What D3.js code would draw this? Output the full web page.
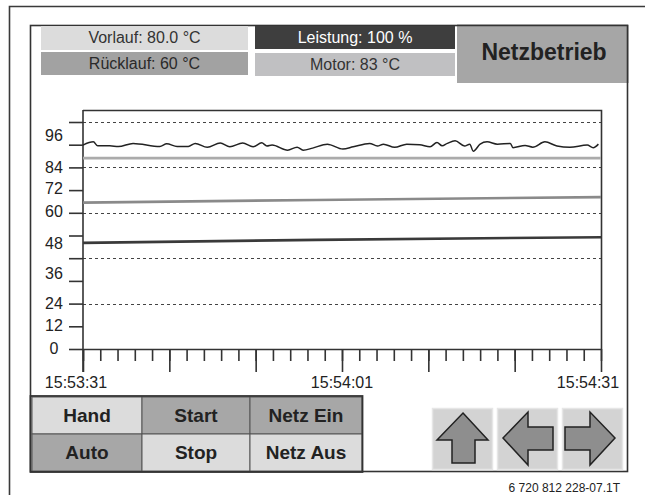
<!DOCTYPE html>
<html>
<head>
<meta charset="utf-8">
<script src="https://cdn.jsdelivr.net/npm/d3@7"></script>
<style>
  body { margin: 0; background: #fff; }
  text { font-family: "Liberation Sans", Arial, sans-serif; }
</style>
</head>
<body>
<script>
// ---- data ----
const headerLabels = ["Vorlauf: 80.0 °C", "Rücklauf: 60 °C", "Leistung: 100 %", "Motor: 83 °C"];
const modeLabel = "Netzbetrieb";
const buttonLabels = ["Hand", "Start", "Netz Ein", "Auto", "Stop", "Netz Aus"];
const footerCode = "6 720 812 228-07.1T";

const timeStart = "15:53:31";
const timeEnd = "15:54:31";
const xMinorSeconds = d3.range(0, 61, 2);
const xMajorSeconds = [0, 10, 20, 30, 40, 50, 60];
const xLabelSeconds = [0, 30, 60];

const yTickValues = [0, 12, 24, 36, 48, 60, 72, 84, 96, 108, 120];
const yGridValues = [24, 48, 72, 96, 120];
const yTickLabels = ["0", "12", "24", "36", "48", "60", "72", "84", "96"];
// where each label sits on the drawn scale (labels are not aligned to ticks on the panel)
const yLabelAt = [-0.5, 11.5, 23.5, 39, 55, 72, 84, 95.5, 112];

// series: [seconds after start, value]
const wavySeries = [
  [0, 107.8], [1.2, 109.5], [1.7, 107.4], [3.1, 107.4], [4.1, 107.0], [5.8, 108.7],
  [8.9, 107.1], [9.7, 108.5], [10.9, 107.1], [12.2, 107.1], [13.0, 108.7], [14.4, 106.6],
  [15.9, 108.9], [17.0, 106.9], [18.5, 108.9], [19.7, 106.9], [20.7, 109.0], [21.3, 107.3],
  [21.9, 107.8], [23.7, 105.1], [24.8, 106.7], [25.5, 105.1], [26.6, 106.2], [28.3, 108.3],
  [30.1, 105.7], [31.3, 106.9], [33.2, 108.7], [34.1, 107.3], [34.8, 108.3], [36.1, 106.6],
  [37.5, 108.3], [39.0, 108.0], [40.2, 106.9], [41.0, 109.2], [41.6, 107.4], [42.2, 108.7],
  [43.1, 110.1], [44.2, 107.3], [44.8, 108.3], [45.2, 104.6], [46.0, 108.3], [46.8, 109.5],
  [48.0, 108.3], [49.5, 108.7], [49.8, 106.4], [51.2, 107.6], [52.1, 106.7], [53.5, 109.5],
  [54.9, 107.3], [56.4, 106.6], [58.4, 107.8], [59.1, 106.4], [59.7, 108.3]
];
const flatSeries = [[0, 100.9], [60, 100.9]];
const graySeries = [[0, 77.4], [27, 78.8], [60, 80.3]];
const darkSeries = [[0, 56.1], [27, 57.7], [60, 59.1]];

// ---- drawing ----
const W = 645, H = 495;
const svg = d3.select("body").append("svg")
    .attr("width", W)
    .attr("height", H);

// outer frame (only top and left visible)
svg.append("path")
    .attr("d", "M9.5,495 V6.5 H645")
    .attr("fill", "none")
    .attr("stroke", "#3a3a3a")
    .attr("stroke-width", 1.6);

// panel
svg.append("rect")
    .attr("x", 30.5).attr("y", 25.5)
    .attr("width", 597).attr("height", 446)
    .attr("fill", "none")
    .attr("stroke", "#333")
    .attr("stroke-width", 1.6);

// header boxes
const headerBoxes = [
  {x: 41, y: 26, w: 207, h: 24, fill: "#dcdcdc", color: "#333"},
  {x: 41, y: 52, w: 207, h: 23, fill: "#a2a2a2", color: "#2a2a2a"},
  {x: 255, y: 26, w: 200, h: 23, fill: "#3e3e3e", color: "#fff"},
  {x: 255, y: 53, w: 200, h: 23, fill: "#c0c0c2", color: "#333"}
];
const hb = svg.append("g").selectAll("g")
    .data(headerLabels)
    .join("g");
hb.append("rect")
    .attr("x", (d, i) => headerBoxes[i].x)
    .attr("y", (d, i) => headerBoxes[i].y)
    .attr("width", (d, i) => headerBoxes[i].w)
    .attr("height", (d, i) => headerBoxes[i].h)
    .attr("fill", (d, i) => headerBoxes[i].fill);
hb.append("text")
    .attr("x", (d, i) => headerBoxes[i].x + headerBoxes[i].w / 2)
    .attr("y", (d, i) => headerBoxes[i].y + headerBoxes[i].h / 2 + 1)
    .attr("text-anchor", "middle")
    .attr("dominant-baseline", "middle")
    .attr("font-size", 16)
    .attr("fill", (d, i) => headerBoxes[i].color)
    .text(d => d);

svg.append("rect")
    .attr("x", 457).attr("y", 25)
    .attr("width", 170).attr("height", 58)
    .attr("fill", "#a6a6a6");
svg.append("path")
    .attr("d", "M457,25.5 H627.5 V83")
    .attr("fill", "none")
    .attr("stroke", "#333")
    .attr("stroke-width", 1.6);
svg.append("text")
    .attr("x", 544).attr("y", 54)
    .attr("text-anchor", "middle")
    .attr("dominant-baseline", "middle")
    .attr("font-size", 23)
    .attr("font-weight", "bold")
    .attr("fill", "#222")
    .text(modeLabel);

// chart scales
const parseTime = d3.timeParse("%H:%M:%S");
const t0 = parseTime(timeStart), t1 = parseTime(timeEnd);
const sec = s => new Date(t0.getTime() + s * 1000);
const x = d3.scaleTime().domain([t0, t1]).range([83, 601]);
const y = d3.scaleLinear().domain([0, 120]).range([349, 122]);
const fmt = d3.timeFormat("%H:%M:%S");

const plot = svg.append("g");

// dotted grid
plot.selectAll(".grid")
    .data(yGridValues)
    .join("line")
    .attr("class", "grid")
    .attr("x1", 83).attr("x2", 602)
    .attr("y1", d => Math.round(y(d)) + 0.5)
    .attr("y2", d => Math.round(y(d)) + 0.5)
    .attr("stroke", "#444")
    .attr("stroke-width", 1)
    .attr("stroke-dasharray", "3,3");

// frame: top and right
plot.append("path")
    .attr("d", "M83,110.5 H601.5 V349")
    .attr("fill", "none")
    .attr("stroke", "#333")
    .attr("stroke-width", 1.6);

// y axis
const yAxis = plot.append("g")
    .attr("transform", "translate(83,0)")
    .call(d3.axisLeft(y).tickValues(yTickValues).tickSize(14).tickSizeOuter(0).tickFormat(""));
yAxis.select(".domain").remove();
yAxis.selectAll("line").attr("stroke", "#333").attr("stroke-width", 1.6);
plot.append("line")
    .attr("x1", 83).attr("x2", 83)
    .attr("y1", 110).attr("y2", 372)
    .attr("stroke", "#333")
    .attr("stroke-width", 1.6);

plot.selectAll(".ylab")
    .data(yTickLabels)
    .join("text")
    .attr("class", "ylab")
    .attr("x", 54)
    .attr("y", (d, i) => y(yLabelAt[i]))
    .attr("text-anchor", "middle")
    .attr("dominant-baseline", "middle")
    .attr("font-size", 16)
    .attr("fill", "#222")
    .text(d => d);

// x axis
const xMinor = plot.append("g")
    .attr("transform", "translate(0,349)")
    .call(d3.axisBottom(x).tickValues(xMinorSeconds.map(sec)).tickSize(12).tickSizeOuter(0).tickFormat(""));
xMinor.selectAll("line").attr("stroke", "#333").attr("stroke-width", 1.6);
xMinor.select(".domain").attr("stroke", "#333").attr("stroke-width", 1.6);

const xMajor = plot.append("g")
    .attr("transform", "translate(0,349)")
    .call(d3.axisBottom(x).tickValues(xMajorSeconds.map(sec)).tickSize(23).tickSizeOuter(0).tickFormat(""));
xMajor.select(".domain").remove();
xMajor.selectAll("line").attr("stroke", "#333").attr("stroke-width", 1.6);

plot.selectAll(".xlab")
    .data(xLabelSeconds)
    .join("text")
    .attr("class", "xlab")
    .attr("x", (d, i) => x(sec(d)) + (i === 0 ? -7 : (i === xLabelSeconds.length - 1 ? -13 : 0)))
    .attr("y", 384)
    .attr("text-anchor", "middle")
    .attr("dominant-baseline", "middle")
    .attr("font-size", 16)
    .attr("fill", "#222")
    .text(d => fmt(sec(d)));

// series
const line = d3.line()
    .x(d => x(sec(d[0])))
    .y(d => y(d[1]));

plot.append("path").datum(flatSeries)
    .attr("fill", "none").attr("stroke", "#ababab").attr("stroke-width", 2.6)
    .attr("d", line);
plot.append("path").datum(graySeries)
    .attr("fill", "none").attr("stroke", "#8a8a8a").attr("stroke-width", 2.6)
    .attr("d", line);
plot.append("path").datum(darkSeries)
    .attr("fill", "none").attr("stroke", "#3a3a3a").attr("stroke-width", 2.6)
    .attr("d", line);
plot.append("path").datum(wavySeries)
    .attr("fill", "none").attr("stroke", "#222").attr("stroke-width", 1.5)
    .attr("stroke-linejoin", "round")
    .attr("d", line.curve(d3.curveMonotoneX));

// control buttons
const cols = [32, 142, 250, 362];
const rows = [397, 434, 471];
const btnFill = ["#dcdcdc", "#a7a7a7", "#a7a7a7", "#a7a7a7", "#dcdcdc", "#dcdcdc"];
const btn = svg.append("g").selectAll("g")
    .data(buttonLabels)
    .join("g");
btn.append("rect")
    .attr("x", (d, i) => cols[i % 3])
    .attr("y", (d, i) => rows[Math.floor(i / 3)])
    .attr("width", (d, i) => cols[i % 3 + 1] - cols[i % 3])
    .attr("height", (d, i) => rows[Math.floor(i / 3) + 1] - rows[Math.floor(i / 3)])
    .attr("fill", (d, i) => btnFill[i])
    .attr("stroke", "#555")
    .attr("stroke-width", 1);
btn.append("text")
    .attr("x", (d, i) => (cols[i % 3] + cols[i % 3 + 1]) / 2)
    .attr("y", (d, i) => (rows[Math.floor(i / 3)] + rows[Math.floor(i / 3) + 1]) / 2 + 1)
    .attr("text-anchor", "middle")
    .attr("dominant-baseline", "middle")
    .attr("font-size", 19)
    .attr("font-weight", "bold")
    .attr("fill", "#222")
    .text(d => d);
svg.append("rect")
    .attr("x", 30.5).attr("y", 396)
    .attr("width", 332).attr("height", 76)
    .attr("fill", "none")
    .attr("stroke", "#333")
    .attr("stroke-width", 1.8);

// arrow buttons
const arrowBtns = [
  {x: 432, pts: [[31, 5], [56, 32], [43, 32], [43, 55], [20, 55], [20, 32], [5, 32]]},
  {x: 497, pts: [[6, 30], [31, 4], [31, 19], [56, 19], [56, 42], [31, 42], [31, 57]]},
  {x: 562, pts: [[53, 30], [28, 4], [28, 19], [3, 19], [3, 42], [28, 42], [28, 57]]}
];
const ab = svg.append("g").selectAll("g")
    .data(arrowBtns)
    .join("g")
    .attr("transform", d => `translate(${d.x},408)`);
ab.append("rect")
    .attr("x", 0.5).attr("y", 0.5)
    .attr("width", 60).attr("height", 61)
    .attr("fill", "#d3d3d3")
    .attr("stroke", "#e6e6e6")
    .attr("stroke-width", 1.5);
ab.append("polygon")
    .attr("points", d => d.pts.map(p => p.join(",")).join(" "))
    .attr("fill", "#8e8e8e")
    .attr("stroke", "#222")
    .attr("stroke-width", 1.5)
    .attr("stroke-linejoin", "miter");

svg.append("text")
    .attr("x", 620).attr("y", 492)
    .attr("text-anchor", "end")
    .attr("font-size", 12)
    .attr("fill", "#222")
    .text(footerCode);
</script>
</body>
</html>
